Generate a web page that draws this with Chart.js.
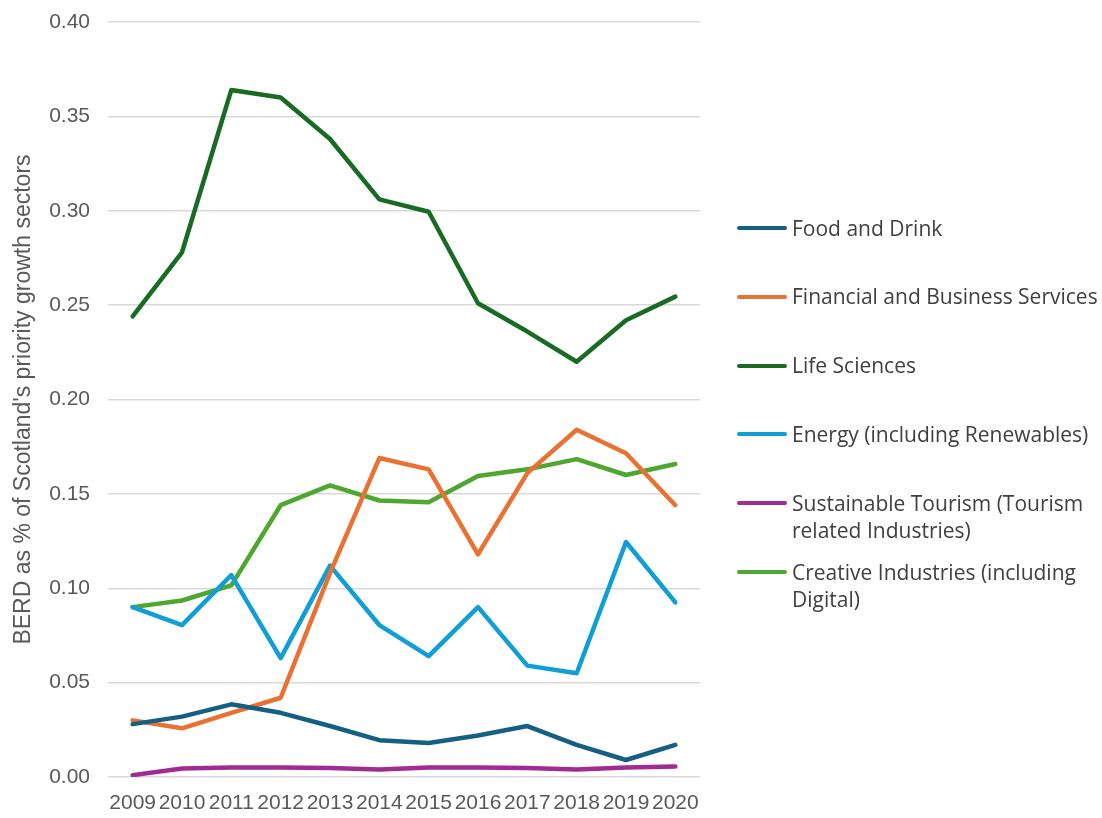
<!DOCTYPE html>
<html>
<head>
<meta charset="utf-8">
<script src="https://cdn.jsdelivr.net/npm/chart.js@4.4.1/dist/chart.umd.min.js"></script>
<style>
  html, body { margin: 0; padding: 0; background: #ffffff; }
  #wrap { position: relative; width: 1102px; height: 818px; background: #ffffff; }
  #chart { position: absolute; left: 0; top: 0; }
  .leg { position: absolute; left: 737px; font-family: "Open Sans", "Noto Sans", sans-serif; font-size: 21px; line-height: 27px; color: #404040; white-space: nowrap; }
  .leg .sw { position: absolute; left: 0; top: 11.5px; width: 50px; height: 4px; border-radius: 2px; }
  .leg .tx { position: absolute; left: 55px; top: 0; }
</style>
</head>
<body>
<div id="wrap">
  <canvas id="chart" width="1102" height="818"></canvas>
</div>
<script>
// ---- Data ----
const years = ['2009','2010','2011','2012','2013','2014','2015','2016','2017','2018','2019','2020'];

const foodAndDrink      = [0.028, 0.032, 0.0385, 0.034, 0.027, 0.0195, 0.018, 0.022, 0.027, 0.017, 0.009, 0.017];
const financialBusiness = [0.030, 0.0258, 0.034, 0.042, 0.108, 0.169, 0.163, 0.118, 0.161, 0.184, 0.1715, 0.144];
const lifeSciences      = [0.244, 0.278, 0.364, 0.360, 0.338, 0.306, 0.2995, 0.251, 0.236, 0.220, 0.242, 0.2545];
const energy            = [0.090, 0.0805, 0.107, 0.063, 0.112, 0.0805, 0.064, 0.090, 0.059, 0.055, 0.1245, 0.0925];
const sustainableTourism= [0.001, 0.0045, 0.005, 0.005, 0.0048, 0.004, 0.005, 0.005, 0.0048, 0.004, 0.005, 0.0056];
const creativeIndustries= [0.090, 0.0935, 0.1015, 0.144, 0.1545, 0.1465, 0.1456, 0.1595, 0.163, 0.1684, 0.160, 0.1658];

const seriesNames = [
  ['Food and Drink'],
  ['Financial and Business Services'],
  ['Life Sciences'],
  ['Energy (including Renewables)'],
  ['Sustainable Tourism (Tourism', 'related Industries)'],
  ['Creative Industries (including', 'Digital)']
];
const seriesColors = ['#156082', '#E97132', '#196B24', '#0F9ED5', '#A02B93', '#4EA72E'];
const seriesValues = [foodAndDrink, financialBusiness, lifeSciences, energy, sustainableTourism, creativeIndustries];

const yTitle = "BERD as % of Scotland's priority growth sectors";
const yMin = 0, yMax = 0.40, yStep = 0.05;

// ---- Chart ----
const datasets = seriesValues.map((vals, i) => ({
  label: seriesNames[i].join(' '),
  data: vals,
  borderColor: seriesColors[i],
  backgroundColor: seriesColors[i],
  borderWidth: 4.5,
  pointRadius: 0,
  pointHoverRadius: 0,
  tension: 0,
  fill: false,
  borderCapStyle: 'round',
  borderJoinStyle: 'round'
}));

new Chart(document.getElementById('chart'), {
  type: 'line',
  data: { labels: years, datasets: datasets },
  options: {
    responsive: false,
    animation: false,
    events: [],
    layout: { padding: { left: 0, top: 22, right: 402, bottom: 0 } },
    plugins: { legend: { display: false }, tooltip: { enabled: false } },
    scales: {
      x: {
        offset: true,
        grid: { display: false, drawTicks: false },
        border: { display: false },
        ticks: {
          autoSkip: false, maxRotation: 0, minRotation: 0, padding: 14,
          color: '#595959',
          font: { family: '"Liberation Sans", Arial, sans-serif', size: 21 }
        },
        afterFit: (s) => { s.height = 41; s.paddingLeft = 0; s.paddingRight = 0; }
      },
      y: {
        min: yMin, max: yMax,
        grid: { color: '#d9d9d9', lineWidth: 1.5, drawTicks: false },
        border: { display: false },
        ticks: {
          stepSize: yStep, padding: 18,
          color: '#595959',
          font: { family: '"Liberation Sans", Arial, sans-serif', size: 21 },
          callback: (v) => Number(v).toFixed(2)
        },
        title: {
          display: true, text: yTitle, color: '#595959',
          font: { family: '"Liberation Sans", Arial, sans-serif', size: 23 },
          padding: { top: 10, bottom: 0 }
        },
        afterFit: (s) => { s.width = 108; s.paddingTop = 0; s.paddingBottom = 0; }
      }
    }
  }
});

// ---- HTML legend ----
const wrap = document.getElementById('wrap');
seriesNames.forEach((lines, i) => {
  const d = document.createElement('div');
  d.className = 'leg';
  d.style.top = (214.5 + i * 68.8) + 'px';
  const sw = document.createElement('div');
  sw.className = 'sw';
  sw.style.background = seriesColors[i];
  const tx = document.createElement('div');
  tx.className = 'tx';
  tx.innerHTML = lines.map(l => l.replace(/&/g,'&amp;')).join('<br>');
  d.appendChild(sw);
  d.appendChild(tx);
  wrap.appendChild(d);
});
</script>
</body>
</html>
